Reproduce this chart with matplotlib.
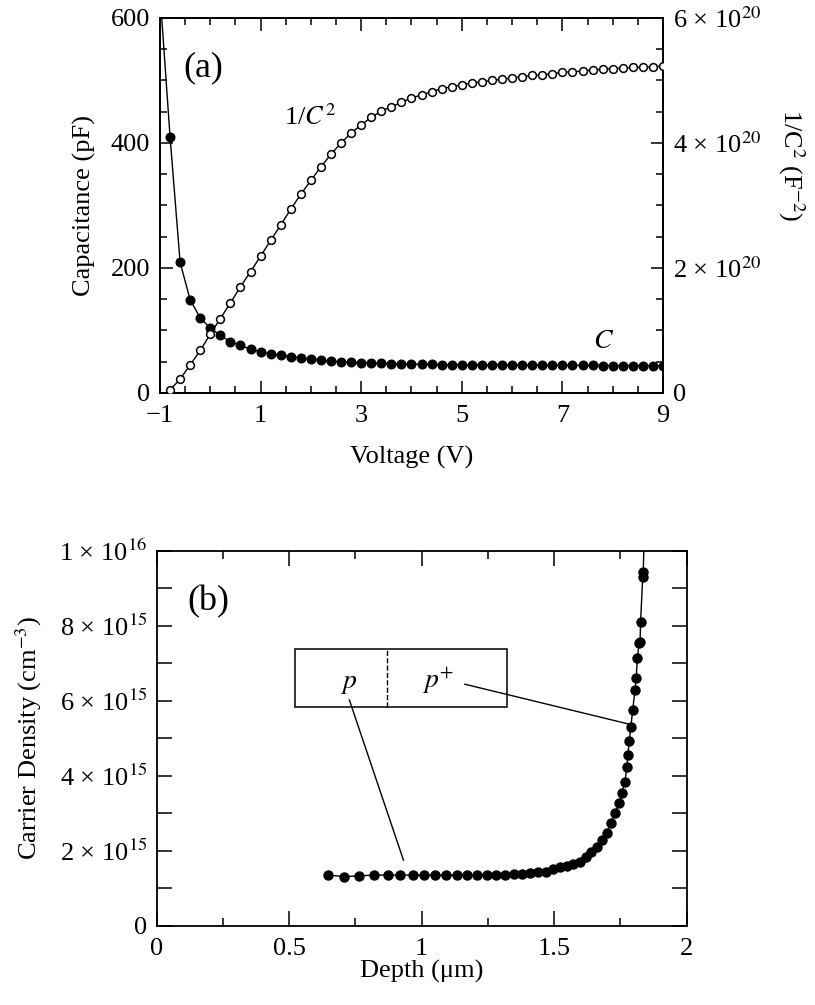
import matplotlib
matplotlib.use("Agg")
import matplotlib.pyplot as plt
from matplotlib.ticker import FixedLocator, MultipleLocator, FuncFormatter
from matplotlib.patches import Rectangle

plt.rcParams["font.family"] = ["Liberation Serif", "DejaVu Serif"]
plt.rcParams["mathtext.fontset"] = "stix"
plt.rcParams["axes.linewidth"] = 1.3

# ---------------------------------------------------------------------------
# DATA — panel (a): C-V sweep
# ---------------------------------------------------------------------------
voltage = [-1.0, -0.8, -0.6, -0.4, -0.2, 0.0, 0.2, 0.4, 0.6, 0.8, 1.0,
           1.2, 1.4, 1.6, 1.8, 2.0, 2.2, 2.4, 2.6, 2.8, 3.0,
           3.2, 3.4, 3.6, 3.8, 4.0, 4.2, 4.4, 4.6, 4.8, 5.0,
           5.2, 5.4, 5.6, 5.8, 6.0, 6.2, 6.4, 6.6, 6.8, 7.0,
           7.2, 7.4, 7.6, 7.8, 8.0, 8.2, 8.4, 8.6, 8.8, 9.0]
cap_pf = [640, 410, 209, 149, 120, 104, 92, 82, 76, 70, 66,
          62.5, 60, 58, 56, 54, 52, 51, 50, 49, 48.5,
          48, 47.4, 47, 46.6, 46.2, 45.9, 45.6, 45.4, 45.2, 45.0,
          44.9, 44.8, 44.7, 44.6, 44.5, 44.4, 44.3, 44.3, 44.2, 44.1,
          44.1, 44.0, 44.0, 43.9, 43.9, 43.8, 43.8, 43.8, 43.7, 43.7]

voltage_inv = voltage[1:]
inv_c2_e20 = [0.05, 0.22, 0.45, 0.68, 0.94, 1.19, 1.44, 1.70, 1.94, 2.19,
              2.44, 2.69, 2.94, 3.18, 3.40, 3.62, 3.82, 4.00, 4.16, 4.29,
              4.41, 4.51, 4.58, 4.65, 4.72, 4.77, 4.82, 4.87, 4.90, 4.93,
              4.96, 4.98, 5.00, 5.02, 5.04, 5.06, 5.08, 5.09, 5.11, 5.13,
              5.14, 5.15, 5.17, 5.18, 5.19, 5.20, 5.21, 5.21, 5.22, 5.23]

# ---------------------------------------------------------------------------
# DATA — panel (b): doping profile
# ---------------------------------------------------------------------------
depth_um = [0.648, 0.708, 0.765, 0.820, 0.872, 0.918, 0.968, 1.009, 1.050, 1.092,
            1.132, 1.172, 1.210, 1.245, 1.280, 1.314, 1.348, 1.377, 1.409, 1.440,
            1.469, 1.497, 1.522, 1.547, 1.572, 1.597, 1.619, 1.639, 1.660, 1.679,
            1.698, 1.713, 1.729, 1.745, 1.755, 1.767, 1.774, 1.778, 1.783, 1.789,
            1.796, 1.805, 1.809, 1.814, 1.820, 1.824, 1.826, 1.834, 1.836, 1.842]
density_e15 = [1.35, 1.31, 1.33, 1.35, 1.35, 1.35, 1.35, 1.35, 1.35, 1.35,
               1.35, 1.35, 1.35, 1.35, 1.36, 1.36, 1.38, 1.39, 1.40, 1.42,
               1.44, 1.50, 1.56, 1.59, 1.65, 1.71, 1.84, 1.97, 2.11, 2.29,
               2.46, 2.73, 3.00, 3.26, 3.53, 3.84, 4.24, 4.55, 4.93, 5.29,
               5.75, 6.29, 6.60, 7.13, 7.53, 7.57, 8.11, 9.31, 9.44, 11.0]

FS = 19


def sci_label(mant, exp):
    return "%d \u00d7 10$^{%d}$" % (mant, exp)


fig = plt.figure(figsize=(8.15, 10.05), dpi=100)

# ---- Panel (a) ------------------------------------------------------------
ax1 = fig.add_axes([0.1963, 0.6090, 0.6172, 0.3731])
ax1.plot(voltage, cap_pf, "-o", color="black", lw=1.0, ms=6.2,
         mfc="black", mec="black", zorder=3)
ax1.set_xlim(-1, 9)
ax1.set_ylim(0, 600)
ax1.xaxis.set_major_locator(FixedLocator([-1, 1, 3, 5, 7, 9]))
ax1.xaxis.set_minor_locator(MultipleLocator(0.5))
ax1.yaxis.set_major_locator(MultipleLocator(200))
ax1.yaxis.set_minor_locator(MultipleLocator(50))
ax1.xaxis.set_major_formatter(FuncFormatter(
    lambda v, p: "\u2212%d" % abs(v) if v < 0 else "%d" % v))
ax1.tick_params(which="both", direction="in", top=True, right=False,
                labelsize=FS, width=1.1)
ax1.tick_params(which="major", length=9)
ax1.tick_params(which="minor", length=5)
ax1.tick_params(axis="x", pad=9)
ax1.tick_params(axis="y", pad=7)
ax1.set_xlabel("Voltage (V)", fontsize=FS)
ax1.set_ylabel("Capacitance (pF)", fontsize=FS)
ax1.xaxis.set_label_coords(0.5, -0.14)
ax1.yaxis.set_label_coords(-0.128, 0.5)

ax1r = ax1.twinx()
ax1r.plot(voltage_inv, [v * 1e20 for v in inv_c2_e20], "-o", color="black",
          lw=1.0, ms=5.6, mfc="white", mec="black", mew=1.1, zorder=3)
ax1r.set_ylim(0, 6e20)
ax1r.yaxis.set_major_locator(MultipleLocator(2e20))
ax1r.yaxis.set_minor_locator(MultipleLocator(0.5e20))
ax1r.yaxis.set_major_formatter(FuncFormatter(
    lambda v, p: "0" if v == 0 else sci_label(round(v / 1e20), 20)))
ax1r.tick_params(which="both", direction="in", labelsize=FS, width=1.1, pad=7)
ax1r.tick_params(which="major", length=9)
ax1r.tick_params(which="minor", length=5)
ax1r.set_ylabel(r"1/C$^2$ (F$^{-2}$)", fontsize=FS, rotation=270)
ax1r.yaxis.set_label_coords(1.286, 0.608)

ax1.text(0.046, 0.867, "(a)", transform=ax1.transAxes, fontsize=26,
         va="center")
ax1.text(0.247, 0.736, r"1/$C^2$", transform=ax1.transAxes, fontsize=FS,
         va="center")
ax1.text(0.861, 0.136, r"$C$", transform=ax1.transAxes, fontsize=FS + 1,
         va="center")

# ---- Panel (b) ------------------------------------------------------------
ax2 = fig.add_axes([0.1923, 0.0789, 0.6503, 0.3731])
ax2.plot(depth_um, [v * 1e15 for v in density_e15], "-o", color="black",
         lw=1.0, ms=6.5, mfc="black", mec="black", zorder=3)
ax2.set_xlim(0, 2)
ax2.set_ylim(0, 1e16)
ax2.xaxis.set_major_locator(MultipleLocator(0.5))
ax2.xaxis.set_minor_locator(MultipleLocator(0.25))
ax2.yaxis.set_major_locator(MultipleLocator(2e15))
ax2.yaxis.set_minor_locator(MultipleLocator(1e15))
ax2.xaxis.set_major_formatter(FuncFormatter(lambda v, p: "%g" % v))


def dens_fmt(v, p):
    if v == 0:
        return "0"
    if v >= 1e16 - 1:
        return sci_label(1, 16)
    return sci_label(round(v / 1e15), 15)


ax2.yaxis.set_major_formatter(FuncFormatter(dens_fmt))
ax2.tick_params(which="both", direction="in", top=True, right=True,
                labelsize=FS, width=1.1)
ax2.tick_params(axis="x", which="major", length=11, pad=9)
ax2.tick_params(axis="x", which="minor", length=6)
ax2.tick_params(axis="y", which="both", length=11, pad=7)
ax2.set_xlabel("Depth (\u03bcm)", fontsize=FS)
ax2.set_ylabel(r"Carrier Density (cm$^{-3}$)", fontsize=FS)
ax2.xaxis.set_label_coords(0.5, -0.09)
ax2.yaxis.set_label_coords(-0.213, 0.5)

ax2.text(0.057, 0.863, "(b)", transform=ax2.transAxes, fontsize=26,
         va="center")

# inset schematic of the p / p+ structure
box_x0, box_x1 = 0.522, 1.323
box_y0, box_y1 = 0.584e16, 0.738e16
ax2.add_patch(Rectangle((box_x0, box_y0), box_x1 - box_x0, box_y1 - box_y0,
                        fill=False, ec="black", lw=1.1, zorder=2))
ax2.plot([0.870, 0.870], [box_y0, box_y1], "--", color="black", lw=1.0)
ax2.text(0.723, 0.645e16, r"$p$", fontsize=FS + 1, ha="center", va="center")
ax2.text(1.060, 0.655e16, r"$p^{+}$", fontsize=FS + 1, ha="center", va="center")
ax2.plot([0.727, 0.931], [0.602e16, 0.175e16], color="black", lw=1.0)
ax2.plot([1.163, 1.780], [0.644e16, 0.538e16], color="black", lw=1.0)

fig.savefig("out.png", dpi=100)
